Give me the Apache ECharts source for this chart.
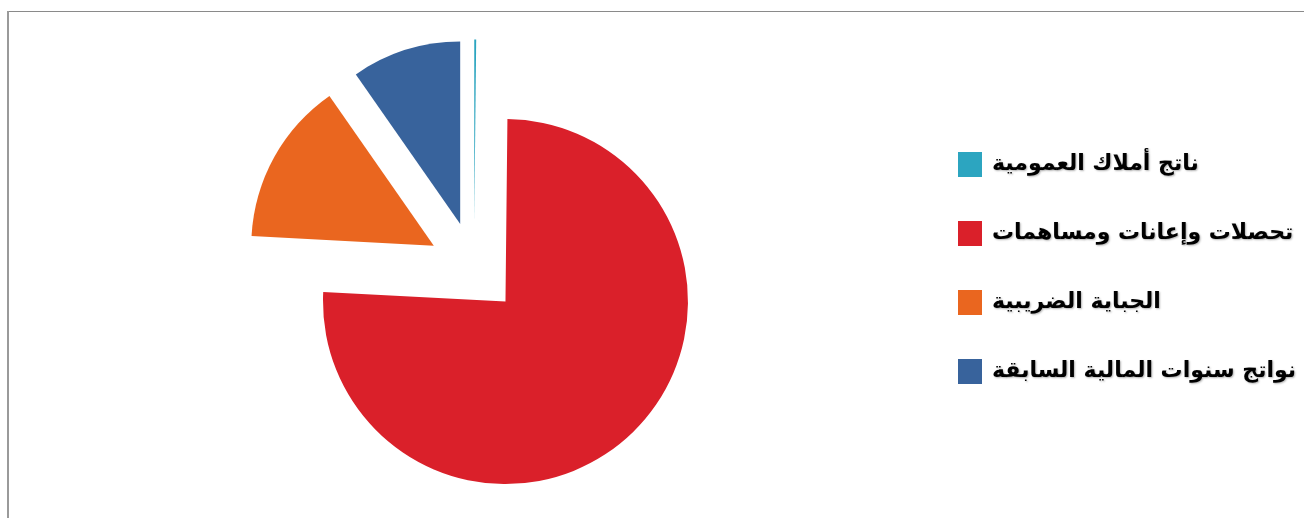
<!DOCTYPE html>
<html>
<head>
<meta charset="utf-8">
<script src="https://cdn.jsdelivr.net/npm/echarts@6/dist/echarts.min.js"></script>
<style>
html,body{margin:0;padding:0;background:#fff;}
#chart{width:1304px;height:518px;}
</style>
</head>
<body>
<div id="chart"></div>
<script>
const categories = ['ناتج أملاك العمومية', 'تحصلات وإعانات ومساهمات', 'الجباية الضريبية', 'نواتج سنوات المالية السابقة'];
const values = [0.17, 75.67, 14.47, 9.69];
const colors = ['#2CA5C0', '#DA202A', '#EA661F', '#38639C'];

const chart = echarts.init(document.getElementById('chart'), null, {renderer: 'canvas'});
chart.setOption({
  animation: false,
  backgroundColor: '#ffffff',
  legend: {
    orient: 'vertical',
    left: 958,
    top: 152,
    padding: 0,
    align: 'left',
    icon: 'rect',
    itemWidth: 24,
    itemHeight: 25,
    itemGap: 44,
    selectedMode: false,
    data: categories,
    textStyle: {
      fontFamily: 'DejaVu Sans',
      fontWeight: 'bold',
      fontSize: 22,
      color: '#000',
      padding: [0, 0, 0, 5],
      textShadowColor: 'rgba(0,0,0,0.3)',
      textShadowBlur: 2,
      textShadowOffsetX: 1,
      textShadowOffsetY: 1
    }
  },
  graphic: [
    {type: 'line', shape: {x1: 8, y1: 11.5, x2: 1304, y2: 11.5}, style: {stroke: '#8a8a8a', lineWidth: 1}},
    {type: 'line', shape: {x1: 8, y1: 11, x2: 8, y2: 518}, style: {stroke: '#9a9a9a', lineWidth: 2}}
  ],
  series: [{
    type: 'pie',
    center: [474, 268],
    radius: 182.5,
    startAngle: 90,
    clockwise: true,
    minAngle: 0,
    selectedMode: 'multiple',
    selectedOffset: 46,
    avoidLabelOverlap: false,
    label: {show: false},
    labelLine: {show: false},
    emphasis: {disabled: true},
    itemStyle: {borderWidth: 0},
    data: categories.map((c, i) => ({
      name: c,
      value: values[i],
      selected: true,
      itemStyle: {color: colors[i]}
    }))
  }]
});
</script>
</body>
</html>
